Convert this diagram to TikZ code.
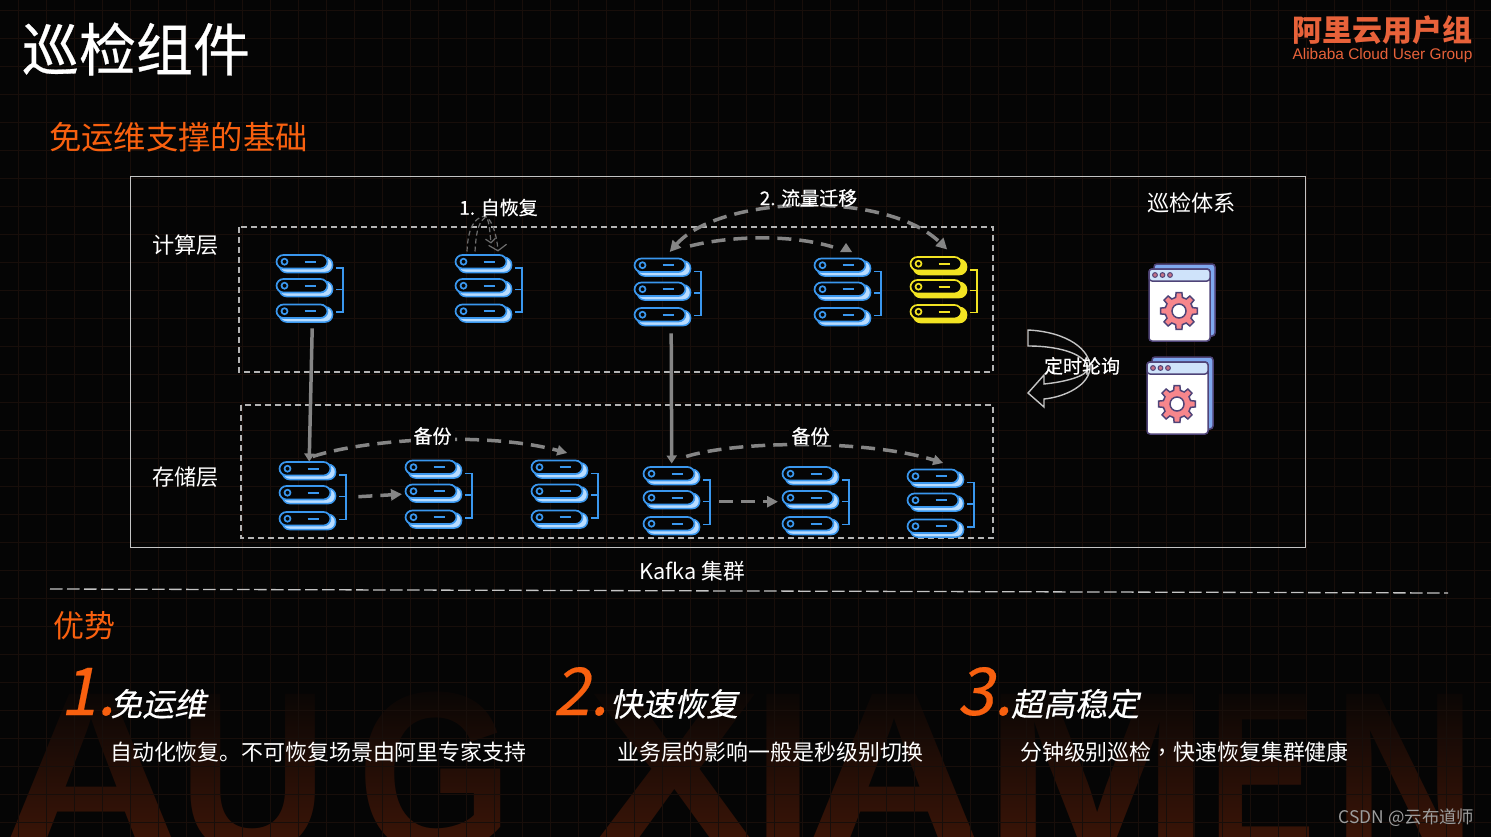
\documentclass[tikz,border=0pt]{standalone}
\usepackage{fontspec}
\setmainfont{Noto Sans CJK SC}
\newfontfamily\semib[FakeBold=0.5]{Noto Sans CJK SC}
\newfontfamily\slantcjk[FakeSlant=0.2,FakeBold=0.3]{Noto Sans CJK SC}
\newfontfamily\tcfont{Noto Sans CJK TC}
\newfontfamily\wmfont{Liberation Sans Bold}
\newfontfamily\arialfont{Liberation Sans}
\usetikzlibrary{arrows.meta,calc,fadings}
\definecolor{bgc}{HTML}{050505}
\definecolor{gridc}{HTML}{180E0A}
\definecolor{wmc}{HTML}{3A1508}
\definecolor{orangec}{HTML}{F8600F}
\definecolor{logoc}{HTML}{E8623A}
\definecolor{blueM}{HTML}{3A97EE}
\definecolor{blueL}{HTML}{B8DCFF}
\definecolor{yelM}{HTML}{F2E322}
\definecolor{arrowc}{HTML}{858585}
\definecolor{boxc}{HTML}{C4C4C4}
\definecolor{dashc}{HTML}{B4B4B4}
\definecolor{winO}{HTML}{4F4478}
\definecolor{winB}{HTML}{7FA8EE}
\definecolor{winH}{HTML}{CFE3FA}
\definecolor{gearc}{HTML}{F7868C}
\tikzset{
  txt/.style={inner sep=0pt,text=white,font=\fontsize{#1}{#1}\selectfont},
  btxt/.style={inner sep=0pt,text=white,font=\semib\fontsize{#1}{#1}\selectfont},
  otxt/.style={inner sep=0pt,text=orangec,font=\fontsize{#1}{#1}\selectfont},
  slanttxt/.style={inner sep=0pt,text=white,font=\slantcjk\fontsize{#1}{#1}\selectfont},
  numtxt/.style={inner sep=0pt,text=orangec,font=\slantcjk\fontsize{66}{66}\selectfont},
  wmtxt/.style={inner sep=0pt,text=wmc,anchor=base,font=\wmfont\fontsize{230}{230}\selectfont},
  layerbox/.style={draw=dashc,line width=1.5pt,dash pattern=on 6pt off 4pt},
  flowsolid/.style={draw=arrowc,line width=3.5pt,-{Triangle[length=8pt,width=10pt]}},
  flowdash/.style={draw=arrowc,line width=3.5pt,dash pattern=on 14pt off 8pt},
  selfloop/.style={draw=arrowc!120,line width=1.2pt,dash pattern=on 5pt off 3pt},
  anchorbox/.style={inner sep=0pt,minimum width=57pt,minimum height=70pt,anchor=north west},
}
\newcommand{\serverunit}[8]{% name x y main light dy2 dy3 backfillstyle
  \begin{scope}[shift={(#2,#3)}]
    \foreach \dy in {0,#6,#7}{
      \draw[draw=#4,fill=#5,line width=1.5pt,rounded corners=7pt] (3.5,\dy+3) rectangle (56.5,\dy+18);
      \draw[draw=#4,fill=bgc,line width=1.7pt,rounded corners=7pt] (0.5,\dy+0.5) rectangle (51.5,\dy+14);
      \draw[#4,line width=1.7pt] (8.5,\dy+7.2) circle (3);
      \draw[#4,line width=1.8pt] (28.5,\dy+7.2) -- (39.5,\dy+7.2);
    }
    \draw[#4,line width=1.9pt] (60,13.5) -- (67,13.5) -- (67,#7+8) -- (60,#7+8);
    \draw[#4,line width=1.9pt] (60,#6+11) -- (67,#6+11);
  \end{scope}
  \node[anchorbox] (#1) at (#2,#3) {};
}
\newcommand{\windowicon}[3]{% name x y (front top-left)
  \begin{scope}[shift={(#2,#3)}]
    \draw[draw=winO,fill=winB,line width=1.5pt,rounded corners=3pt] (5,-5) rectangle (66,67);
    \draw[draw=winO,fill=white,line width=1.5pt,rounded corners=3pt] (0,0) rectangle (61,72);
    \draw[draw=winO,fill=winH,line width=1.5pt,rounded corners=3pt] (0,12) -- (0,0) -- (61,0) -- (61,12) -- cycle;
    \foreach \dx in {6,13.5,21}{\draw[draw=winO,fill=gearc!70!winO,line width=1pt] (\dx,6) circle (2.4);}
    \begin{scope}[shift={(30,42)}]
      \draw[draw=winO,fill=gearc,line width=1.5pt]
        (-14:14) \foreach \a in {0,45,...,315}{ -- (\a-14:14) -- (\a-9:18.5) -- (\a+9:18.5) -- (\a+14:14)} -- cycle;
      \draw[draw=winO,fill=white,line width=1.5pt] (0,0) circle (7);
    \end{scope}
  \end{scope}
  \node[inner sep=0pt,minimum width=66pt,minimum height=77pt,anchor=north west] (#1) at (#2,#3-5) {};
}
\begin{document}
\begin{tikzpicture}[x=1pt,y=-1pt]
\useasboundingbox (0,0) rectangle (1491,837);
\fill[bgc] (0,0) rectangle (1491,837);
% watermark
\begin{scope}
\clip (0,0) rectangle (1491,837);
\node[wmtxt,xscale=1.12] (wa) at (92,852) {A};
\node[wmtxt,xscale=.9] (wu) at (253,852) {U};
\node[wmtxt,xscale=.87] (wg) at (435,852) {G};
\node[wmtxt,xscale=1.15] (wx) at (675,852) {X};
\node[wmtxt] (wi) at (783,852) {I};
\node[wmtxt,xscale=1.12] (wa2) at (895,852) {A};
\node[wmtxt,xscale=1.2] (wm) at (1097,852) {M};
\node[wmtxt,xscale=.7] (we) at (1262,852) {E};
\node[wmtxt,xscale=.86] (wn) at (1405,852) {N};
\fill[bgc,path fading=south] (0,675) rectangle (1491,837);
\end{scope}
% grid
\foreach \gx in {0,...,52}{\draw[gridc,line width=.7pt] (18+28*\gx,0) -- (18+28*\gx,837);}
\foreach \gy in {0,...,29}{\draw[gridc,line width=.7pt] (0,10+28*\gy) -- (1491,10+28*\gy);}
% header
\node[btxt=57] (title) at (136,49) {巡检组件};
\node[otxt=32.3] (sub) at (178.5,137.5) {免运维支撑的基础};
\node[inner sep=0pt,text=logoc,font=\fontsize{30}{30}\selectfont\bfseries] (logo1) at (1382.5,30) {阿里云用户组};
\node[inner sep=0pt,text=logoc,font=\arialfont\fontsize{15.4}{15.4}\selectfont] (logo2) at (1382.5,56) {Alibaba Cloud User Group};
% frames
\draw[boxc,line width=1pt] (130,177) rectangle (1305,547);
\draw[layerbox] (239,227) rectangle (993,372);
\draw[layerbox] (241,405) rectangle (993,538);
\node[txt=22.2] (lcalc) at (185.5,245.5) {计算层};
\node[txt=22.2] (lstore) at (185.5,477.5) {存储层};
\node[txt=22.2] (lpatrol) at (1191.5,202.5) {巡检体系};
% servers
\serverunit{sA}{276}{254.5}{blueM}{blueL}{24}{49.5}{}
\serverunit{sB}{455}{254.5}{blueM}{blueL}{24}{49.5}{}
\serverunit{sC}{634}{258}{blueM}{blueL}{24}{49.5}{}
\serverunit{sD}{814}{258}{blueM}{blueL}{24}{49.5}{}
\serverunit{sE}{910}{256.5}{yelM}{yelM}{23}{48}{}
\serverunit{sF}{279}{461.5}{blueM}{blueL}{24}{50}{}
\serverunit{sG}{405}{460}{blueM}{blueL}{24}{50}{}
\serverunit{sH}{531}{460}{blueM}{blueL}{24}{50}{}
\serverunit{sI}{643}{466.5}{blueM}{blueL}{24}{50}{}
\serverunit{sJ}{782}{466.5}{blueM}{blueL}{24}{50}{}
\serverunit{sK}{907}{469}{blueM}{blueL}{24}{50}{}
% vertical links
\draw[flowsolid] ($(sA.south)+(7.5,3.5)$) -- ($(sF.north)+(1.5,0)$);
\draw[flowsolid] ($(sC.south)+(8.5,5)$) -- ($(sI.north)+(0,-3)$);
% self recovery
\draw[selfloop,-{Straight Barb[length=6pt,width=18pt]}] ($(sB.north west)+(12,-3)$) .. controls +(1,-25) and +(-8,2) .. ($(sB.north west)+(28,-38)$) .. controls +(8,-2) and +(-1,-16) .. ($(sB.north west)+(43,-3)$);
\draw[selfloop,-{Straight Barb[length=4pt,width=10pt]}] ($(sB.north west)+(20,-3)$) .. controls +(1,-15) and +(-8,6) .. ($(sB.north west)+(30,-37)$) .. controls +(4,-2) and +(-1,-10) .. ($(sB.north west)+(36,-11)$);
% migration arcs
\draw[flowdash,{Triangle[length=11pt,width=11pt]}-{Triangle[length=11pt,width=11pt]}] ($(sC.north)+(7,-6)$) .. controls (720,195) and (886,190) .. ($(sE.north)+(8.5,-7)$);
\draw[flowdash] (690,246) .. controls (730,236) and (790,234) .. (833,247);
\fill[arrowc] (846,243) -- (840,252) -- (852,252) -- cycle;
% backup arcs
\draw[flowdash,-{Triangle[length=10pt,width=10pt]}] ($(sF.north)+(5,-5)$) .. controls (370,438) and (490,432) .. ($(sH.north)+(7.5,-7)$);
\draw[flowdash,-{Triangle[length=10pt,width=10pt]}] ($(sI.north)+(14.5,-10)$) .. controls (740,440) and (870,440) .. ($(sK.north)+(7.5,-6)$);
\draw[flowdash,-{Triangle[length=11pt,width=11pt]}] ($(sF.east)+(22,0)$) -- ($(sG.west)+(-3,-1)$);
\draw[flowdash,-{Triangle[length=11pt,width=11pt]}] ($(sI.east)+(19,0)$) -- ($(sJ.west)+(-4,0)$);
\node[btxt=19,fill=bgc,inner xsep=3pt,inner ysep=0pt] (bk1) at (432.5,436) {备份};
\node[btxt=19,fill=bgc,inner xsep=3pt,inner ysep=0pt] (bk2) at (810.5,436) {备份};
\node[btxt=19] (t1) at (498.5,207.5) {1. 自恢复};
\node[btxt=19] (t2) at (808.5,198) {2. 流量迁移};
% windows
\windowicon{wA}{1149}{269}
\windowicon{wB}{1147}{362}
% polling arrow
\draw[draw=boxc,line width=1.4pt] (1028,330) .. controls (1068,332) and (1090,350) .. (1090,367)
  .. controls (1090,385) and (1065,397) .. (1044,399) -- (1044,407) -- (1028,393) -- (1044,375) -- (1044,384)
  .. controls (1065,382) and (1088,376) .. (1088,368) .. controls (1086,355) and (1062,346) .. (1028,346) -- cycle;
\node[btxt=19] (tpoll) at (1082,366) {定时轮询};
% lower part
\node[txt=21.7] (kafka) at (692,571) {Kafka 集群};
\coordinate (divA) at (50,589);
\coordinate (divB) at (1448,593);
\draw[boxc,line width=1.3pt,dash pattern=on 12.5pt off 4.5pt] (divA) -- (divB);
\node[otxt=31] (adv) at (84,625.5) {优势};
\node[numtxt,anchor=base west] (n1) at (60,715) {1.};
\node[numtxt,anchor=base west] (n2) at (553,715) {2.};
\node[numtxt,anchor=base west] (n3) at (957,715) {3.};
\node[slanttxt=32,anchor=base west] (h1) at (110,716) {免运维};
\node[slanttxt=32,anchor=base west] (h2) at (610,716) {快速恢复};
\node[slanttxt=32,anchor=base west] (h3) at (1011,716) {超高稳定};
\node[txt=21.9,anchor=base west] (b1) at (110,760) {自动化恢复。不可恢复场景由阿里专家支持};
\node[txt=21.9,anchor=base west] (b2) at (617,760) {业务层的影响一般是秒级别切换};
\node[txt=21.9,anchor=base west] (b3) at (1020,760) {分钟级别巡检{\tcfont ，}快速恢复集群健康};
\node[inner sep=0pt,text=white!62!black,font=\fontsize{17.4}{17.4}\selectfont] (csdn) at (1406.5,818) {CSDN @云布道师};
\end{tikzpicture}
\end{document}
